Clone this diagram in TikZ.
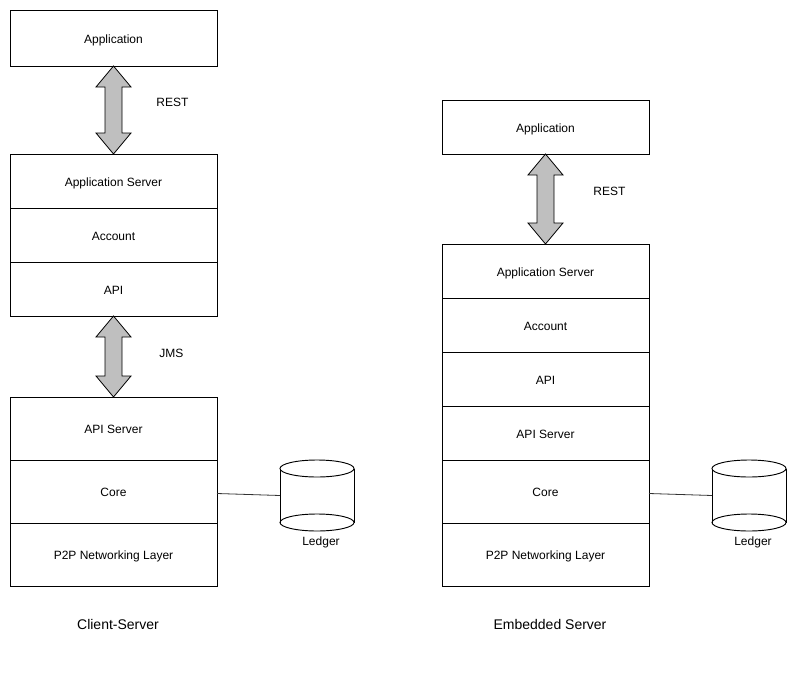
\documentclass[tikz,border=0pt]{standalone}
\usepackage{fontspec}
\setmainfont{Liberation Sans}
\usetikzlibrary{positioning,calc}

\begin{document}
\begin{tikzpicture}[x=0.75pt,y=-0.75pt,line width=0.7pt,
  layer/.style={draw,rectangle,outer sep=0pt,inner sep=0pt,minimum width=155.25pt,minimum height=40.5pt,
    text height=7.5pt,text depth=0pt,font=\fontsize{9}{11}\selectfont},
  talllayer/.style={layer,minimum height=47.25pt},
  blockarrow/.style={draw,fill=gray!50,line width=0.6pt,line join=miter},
  lbl/.style={font=\fontsize{9}{11}\selectfont},
  caption/.style={font=\fontsize{10.5}{13}\selectfont},
  conn/.style={draw=black!80,line width=0.6pt}]
  \useasboundingbox (0,0) rectangle (804,682);
  % client-server stack
  \node[layer,minimum height=42pt] (app1) at (113.5,38) {Application};
  \node[layer,below=66pt of app1] (appsrv1) {Application Server};
  \node[layer,below=0pt of appsrv1] (acct1) {Account};
  \node[layer,below=0pt of acct1] (api1) {API};
  \node[talllayer,below=60.75pt of api1] (apisrv1) {API Server};
  \node[talllayer,below=0pt of apisrv1] (core1) {Core};
  \node[talllayer,below=0pt of core1] (p2p1) {P2P Networking Layer};
  % embedded server stack
  \node[layer] (app2) at (545.5,127) {Application};
  \node[layer,below=67.5pt of app2] (appsrv2) {Application Server};
  \node[layer,below=0pt of appsrv2] (acct2) {Account};
  \node[layer,below=0pt of acct2] (api2) {API};
  \node[layer,below=0pt of api2] (apisrv2) {API Server};
  \node[talllayer,below=0pt of apisrv2] (core2) {Core};
  \node[talllayer,below=0pt of core2] (p2p2) {P2P Networking Layer};
  % double arrows
  \foreach \a/\b in {app1/appsrv1,api1/apisrv1,app2/appsrv2}
    \draw[blockarrow] (\a.south) -- ++(17.5,21) -- ++(-9,0) -- ($(\b.north)+(8.5,-21)$) -- ++(9,0)
      -- (\b.north) -- ++(-17.5,-21) -- ++(9,0) -- ($(\a.south)+(-8.5,21)$) -- ++(-9,0) -- cycle;
  \node[lbl,anchor=west] (rest1) at ($(app1.south)!0.5!(appsrv1.north)+(38,-8)$) {REST};
  \node[lbl,anchor=west] (jms1) at ($(api1.south)!0.5!(apisrv1.north)+(41,-3)$) {JMS};
  \node[lbl,anchor=west] (rest2) at ($(app2.south)!0.5!(appsrv2.north)+(43,-8)$) {REST};
  % ledgers
  \foreach \c/\x in {1/317,2/749} {
    \node[inner sep=0pt,outer sep=0pt,minimum width=55.5pt,minimum height=53.25pt] (ledger\c) at (\x,495.5) {};
    \draw ($(ledger\c.north)+(0,8.5)$) ellipse (27.75pt and 6.375pt);
    \draw ($(ledger\c.south)+(0,-8.5)$) ellipse (27.75pt and 6.375pt);
    \draw ($(ledger\c.north west)+(0,8.5)$) -- ($(ledger\c.south west)+(0,-8.5)$);
    \draw ($(ledger\c.north east)+(0,8.5)$) -- ($(ledger\c.south east)+(0,-8.5)$);
    \node[lbl,below=0.5pt of ledger\c,xshift=3pt] (ledgerlbl\c) {Ledger};
    \draw[conn] (core\c.east) ++(0,2) -- (ledger\c.west);
  }
  \node[caption] (cs) at (118,624) {Client-Server};
  \node[caption] (es) at (550,624) {Embedded Server};
\end{tikzpicture}
\end{document}
